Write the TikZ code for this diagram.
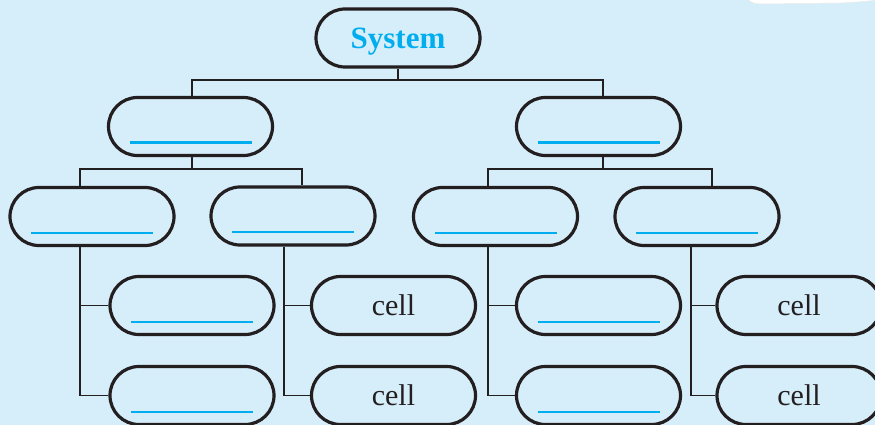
\documentclass[tikz,border=0pt]{standalone}
\usepackage{fontspec}
\setmainfont{Liberation Serif}
\definecolor{bg}{RGB}{214,237,250}
\definecolor{ink}{RGB}{35,31,32}
\definecolor{cyanblue}{RGB}{0,174,239}
\tikzset{
  pill/.style={draw=ink, line width=3.2pt, rounded corners=29pt, minimum width=164pt, minimum height=58pt, inner sep=0pt, font=\fontsize{30}{30}\selectfont, text=ink},
  conn/.style={draw=ink, line width=1.6pt},
  blank/.style={draw=cyanblue, line width=2pt},
}
\begin{document}
\begin{tikzpicture}[x=1pt,y=-1pt]
\useasboundingbox (0,0) rectangle (875,425);
\fill[bg] (0,0) rectangle (875,425);
% page curl at top right
\fill[white, draw=black!8, line width=0.5pt] (748,-1) .. controls (750,3) and (756,4) .. (765,4) -- (840,3) .. controls (860,2) and (870,1) .. (876,0) -- (876,-1) -- cycle;

% nodes
\node[pill, font=\bfseries\fontsize{31}{31}\selectfont, text=cyanblue, text depth=0pt] (sys) at (398,38) {System};
\node[pill] (L) at (190.5,126.5) {};
\node[pill] (R) at (598.5,126.5) {};
\node[pill] (A) at (92,216.5) {};
\node[pill] (B) at (293,216) {};
\node[pill] (C) at (495.5,216.5) {};
\node[pill] (D) at (697,216.5) {};
\node[pill] (A1) at (192,305.5) {};
\node[pill] (A2) at (192,395.5) {};
\node[pill] (B1) at (393.5,305.5) {cell};
\node[pill] (B2) at (393.5,395.5) {cell};
\node[pill] (C1) at (598.5,305.5) {};
\node[pill] (C2) at (598.5,395.5) {};
\node[pill] (D1) at (799,305.5) {cell};
\node[pill] (D2) at (799,395.5) {cell};

% blanks
\foreach \n in {L,R,A,B,C,D,A1,A2,C1,C2}{
  \draw[blank] ([xshift=-61pt,yshift=-16pt]\n.center) -- ([xshift=61pt,yshift=-16pt]\n.center);
}

% connector guide coordinates
\coordinate (h1) at (0,80);
\coordinate (h2) at (0,169);
\coordinate (xL) at (192,0);
\coordinate (xR) at (603,0);
\coordinate (xA) at (80,0);
\coordinate (xBt) at (302,0);
\coordinate (xBb) at (284,0);
\coordinate (xC) at (488,0);
\coordinate (xDt) at (712,0);
\coordinate (xDb) at (691,0);

% level 1 -> 2
\draw[conn] (sys.south) -- (sys.south |- h1);
\draw[conn] (L.north -| xL) |- (h1 -| xR) -- (R.north -| xR);
% level 2 -> 3
\draw[conn] (L.south -| xL) -- (h2 -| xL);
\draw[conn] (A.north -| xA) |- (h2 -| xBt) -- (B.north -| xBt);
\draw[conn] (R.south -| xR) -- (h2 -| xR);
\draw[conn] (C.north -| xC) |- (h2 -| xDt) -- (D.north -| xDt);
% level 3 -> 4
\draw[conn] (A.south -| xA) |- (A1.west);
\draw[conn] (A.south -| xA) |- (A2.west);
\draw[conn] (B.south -| xBb) |- (B1.west);
\draw[conn] (B.south -| xBb) |- (B2.west);
\draw[conn] (C.south -| xC) |- (C1.west);
\draw[conn] (C.south -| xC) |- (C2.west);
\draw[conn] (D.south -| xDb) |- (D1.west);
\draw[conn] (D.south -| xDb) |- (D2.west);
\end{tikzpicture}
\end{document}
